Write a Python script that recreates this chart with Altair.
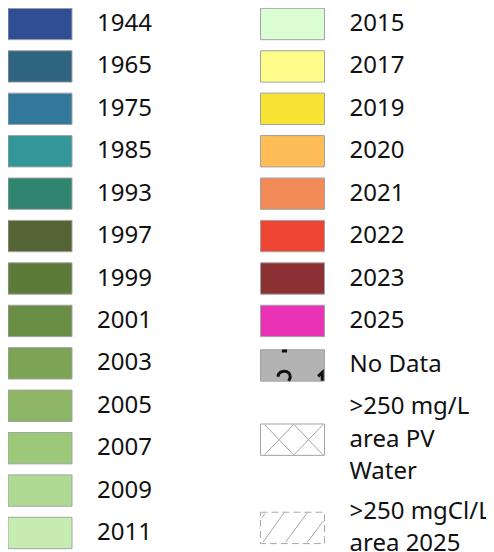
import altair as alt
import pandas as pd

# ---- data -------------------------------------------------------------
left_labels = ["1944", "1965", "1975", "1985", "1993", "1997", "1999",
               "2001", "2003", "2005", "2007", "2009", "2011"]
left_colors = ["#2f4e93", "#2e6480", "#33779b", "#339698", "#2f8570",
               "#536534", "#5d7b38", "#6a8e44", "#7ca454", "#8cb565",
               "#9dc779", "#b0d994", "#c6ecb1"]
left_rows = [0, 1, 2, 3, 4, 5, 6, 7, 8, 9, 10, 11, 12]

right_labels = ["2015", "2017", "2019", "2020", "2021", "2022", "2023",
                "2025", "No Data"]
right_colors = ["#dbfdd3", "#fefd8b", "#f7e334", "#febd57", "#f18a56",
                "#ee4535", "#8b3133", "#ea32b6", "#b3b3b3"]
right_rows = [0, 1, 2, 3, 4, 5, 6, 7, 8.05]

pattern_labels = [">250 mg/L\narea PV\nWater", ">250 mgCl/L\narea 2025"]
pattern_kinds = ["cross", "diag"]
pattern_rows = [9.8, 11.88]

# ---- swatch shapes (unit symbol paths) ---------------------------------
BOX = "M-1,-0.49H1V0.49H-1Z"
CROSS = (BOX +
         "M-0.87,-0.47L0.03,0.47M0.03,-0.47L-0.87,0.47"
         "M0.05,-0.47L0.95,0.47M0.95,-0.47L0.05,0.47")
DIAG = ("M-0.92,0.45L-0.27,-0.47"
        "M-0.22,0.45L0.46,-0.47"
        "M0.46,0.45L0.97,-0.22"
        "M-0.97,-0.3L-0.86,-0.45")
NODATA_MARKS = ("M-0.33,-0.45H-0.17"
                "M-0.45,0.35C-0.45,0.12 -0.05,0.12 -0.07,0.38L-0.12,0.48"
                "M0.8,0.34L0.93,0.22L0.93,0.48")

sw = pd.DataFrame({
    "label": left_labels + right_labels,
    "color": left_colors + right_colors,
    "col": [0] * len(left_labels) + [1] * len(right_labels),
    "row": left_rows + right_rows,
})
pat = pd.DataFrame({
    "label": pattern_labels,
    "kind": pattern_kinds,
    "col": [1] * len(pattern_labels),
    "row": pattern_rows,
})

LINE_H = 32.5
xs = alt.Scale(domain=[0, 1], range=[32, 284.5])
ys = alt.Scale(domain=[0, 12], range=[16, 525])
X = alt.X("col:Q", scale=xs, axis=None)
Y = alt.Y("row:Q", scale=ys, axis=None)

swatches = alt.Chart(sw).mark_point(
    shape=BOX, size=4096, filled=True, opacity=1,
    stroke="#a3a3a3", strokeWidth=1
).encode(x=X, y=Y, fill=alt.Fill("color:N", scale=None))

nodata = alt.Chart(sw).transform_filter(
    alt.datum.label == "No Data"
).mark_point(
    shape=NODATA_MARKS, size=4096, filled=False, opacity=1,
    color="#111111", strokeWidth=3
).encode(x=X, y=Y)

cross = alt.Chart(pat).transform_filter(
    alt.datum.kind == "cross"
).mark_point(
    shape=CROSS, size=4096, filled=False, opacity=1,
    color="#a3a3a3", strokeWidth=1
).encode(x=X, y=Y)

diag_box = alt.Chart(pat).transform_filter(
    alt.datum.kind == "diag"
).mark_point(
    shape=BOX, size=4096, filled=False, opacity=1,
    color="#a8a8a8", strokeWidth=1, strokeDash=[7, 4]
).encode(x=X, y=Y)

diag_lines = alt.Chart(pat).transform_filter(
    alt.datum.kind == "diag"
).mark_point(
    shape=DIAG, size=4096, filled=False, opacity=1,
    color="#a8a8a8", strokeWidth=1
).encode(x=X, y=Y)

text_style = dict(align="left", baseline="middle", dx=57, font="Noto Sans",
                  fontSize=24, lineBreak="\n", lineHeight=LINE_H,
                  color="#111111")

labels = alt.Chart(sw).mark_text(**text_style).encode(
    x=X, y=Y, text="label:N")

pat_labels = []
for kind, lab in zip(pattern_kinds, pattern_labels):
    n_lines = lab.count("\n") + 1
    pat_labels.append(
        alt.Chart(pat).transform_filter(alt.datum.kind == kind)
        .mark_text(dy=-(n_lines - 1) * LINE_H / 2, **text_style)
        .encode(x=X, y=Y, text="label:N")
    )

chart = alt.layer(
    swatches, nodata, cross, diag_box, diag_lines, labels, *pat_labels
).properties(
    width=478, height=544, padding=0,
    autosize=alt.AutoSizeParams(type="none")
).configure_view(stroke=None)

chart.save("out.html", embed_options={"renderer": "svg", "actions": False})
